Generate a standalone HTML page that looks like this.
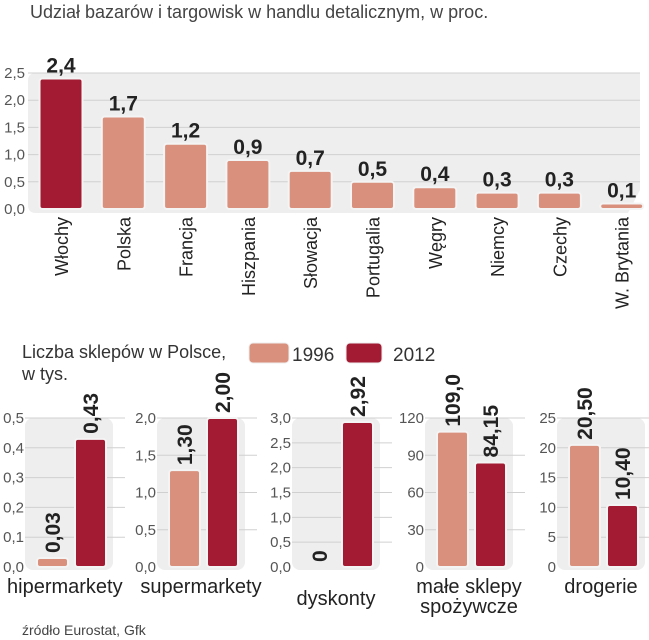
<!DOCTYPE html>
<html><head><meta charset="utf-8"><style>
body{margin:0;background:#fff;}
svg{display:block;font-family:"Liberation Sans",sans-serif;}
.tick{font-size:15px;fill:#555;}
.val{font-family:"Liberation Sans Narrow","Liberation Sans",sans-serif;font-weight:bold;font-size:21px;fill:#222;}
.cat{font-size:18px;fill:#222;}
</style></head><body>
<svg id="c" width="649" height="640" viewBox="0 0 649 640">
<text x="30" y="18" font-size="18" fill="#444">Udział bazarów i targowisk w handlu detalicznym, w proc.</text>
<g id="topg"></g>
<text x="22" y="358" font-size="18" fill="#333">Liczba sklepów w Polsce,</text>
<text x="22" y="380" font-size="18" fill="#333">w tys.</text>
<rect x="249" y="343" width="40" height="20" rx="4" fill="#d9907c" stroke="#eee"/>
<text x="292" y="361" font-size="19" fill="#333">1996</text>
<rect x="346" y="343" width="36" height="20" rx="4" fill="#a31b32" stroke="#eee"/>
<text x="393" y="361" font-size="19" fill="#333">2012</text>
<g id="bot"></g>
<text x="22" y="635" font-size="14" fill="#444">źródło Eurostat, Gfk</text>
</svg>
<script>
const countries=["Włochy","Polska","Francja","Hiszpania","Słowacja","Portugalia","Węgry","Niemcy","Czechy","W. Brytania"];
const shares=[2.4,1.7,1.2,0.9,0.7,0.5,0.4,0.3,0.3,0.1];
const shareLabels=["2,4","1,7","1,2","0,9","0,7","0,5","0,4","0,3","0,3","0,1"];
const topTicks=[0,0.5,1,1.5,2,2.5];
const topTickLabels=["0,0","0,5","1,0","1,5","2,0","2,5"];

const groups=["hipermarkety","supermarkety","dyskonty","małe sklepy|spożywcze","drogerie"];
const v1996=[0.03,1.30,0,109.0,20.50];
const v2012=[0.43,2.00,2.92,84.15,10.40];
const l1996=["0,03","1,30","0","109,0","20,50"];
const l2012=["0,43","2,00","2,92","84,15","10,40"];
const groupMax=[0.5,2.0,3.0,120,25];
const groupTicks=[[0,0.1,0.2,0.3,0.4,0.5],[0,0.5,1,1.5,2],[0,0.5,1,1.5,2,2.5,3],[0,30,60,90,120],[0,5,10,15,20,25]];
const groupTickLabels=[["0,0","0,1","0,2","0,3","0,4","0,5"],["0,0","0,5","1,0","1,5","2,0"],["0,0","0,5","1,0","1,5","2,0","2,5","3,0"],["0","30","60","90","120"],["0","5","10","15","20","25"]];

const NS="http://www.w3.org/2000/svg";
function mk(p,t,a,txt){const e=document.createElementNS(NS,t);for(const k in a)e.setAttribute(k,a[k]);if(txt!=null)e.textContent=txt;p.appendChild(e);return e;}
const DARK="#a31b32",LIGHT="#d9907c";

const topG=document.getElementById('topg');
const y0=209,ppu=54.4;
const ty=v=>y0-v*ppu;
const tx=i=>61+i*62.3;
let bg=mk(topG,'path',{d:"M36,73 H640 V190 L628,213 H36 Q28,213 28,205 V81 Q28,73 36,73 Z",fill:"#eeeeee"});


topTicks.forEach((t,i)=>{
  if(t>0){let g=mk(topG,'line',{x1:28,x2:640,y1:ty(t),y2:ty(t),stroke:"#d0d0d0","stroke-width":1});
  
  }
  let l=mk(topG,'text',{x:25,y:ty(t)+5,"text-anchor":"end",class:"tick"},topTickLabels[i]);
  
  
});
countries.forEach((c,i)=>{
  const h=Math.max(shares[i]*ppu,3);
  let b=mk(topG,'rect',{x:tx(i)-21.5,y:y0-h,width:43,height:h,rx:3,fill:i==0?DARK:LIGHT,stroke:"#f4f4f4","stroke-width":2});
  
  
  let v=mk(topG,'text',{x:tx(i),y:y0-h-6,"text-anchor":"middle",class:"val"},shareLabels[i]);
  
  
  let t=mk(topG,'text',{transform:`translate(${tx(i)+7},217) rotate(-90)`,"text-anchor":"end",class:"cat"},c);
  
  
});

const bot=document.getElementById('bot');
const lefts=[25,157,292,425,557];
const by0=567,bh=149;
groups.forEach((g,gi)=>{
  const L=lefts[gi];
  const sy=v=>by0-v/groupMax[gi]*bh;
  let p=mk(bot,'rect',{x:L,y:418,width:88,height:152,rx:8,fill:"#eeeeee"});
  
  
  groupTicks[gi].forEach((t,ti)=>{
    if(t>0){let gl=mk(bot,'line',{x1:L,x2:L+100,y1:sy(t),y2:sy(t),stroke:"#d0d0d0"});
    
    }
    let l=mk(bot,'text',{x:L-1,y:sy(t)+5,"text-anchor":"end",class:"tick"},groupTickLabels[gi][ti]);
    
    
  });
  [[v1996,l1996,LIGHT,12,'1996'],[v2012,l2012,DARK,50,'2012']].forEach(([arr,lab,col,off,yr])=>{
    const v=arr[gi];const x=L+off;
    let topY=by0;
    if(v>0){
      const h=Math.max(v/groupMax[gi]*bh,8);
      let b=mk(bot,'rect',{x:x,y:by0-h,width:31,height:h,rx:3,fill:col,stroke:"#f4f4f4","stroke-width":2});
      
      
      topY=by0-h;
    }
    let t=mk(bot,'text',{transform:`translate(${x+23},${topY-5}) rotate(-90)`,class:"val"},lab[gi]);
    
    
  });
  const parts=g.split('|');
  parts.forEach((s,si)=>{
    let t=mk(bot,'text',{x:L+(gi==0?-18:44),y:(gi==2?605:593)+si*20,"text-anchor":gi==0?"start":"middle","font-size":20,fill:"#222"},s);
    
    
  });
});
</script>
</body></html>
